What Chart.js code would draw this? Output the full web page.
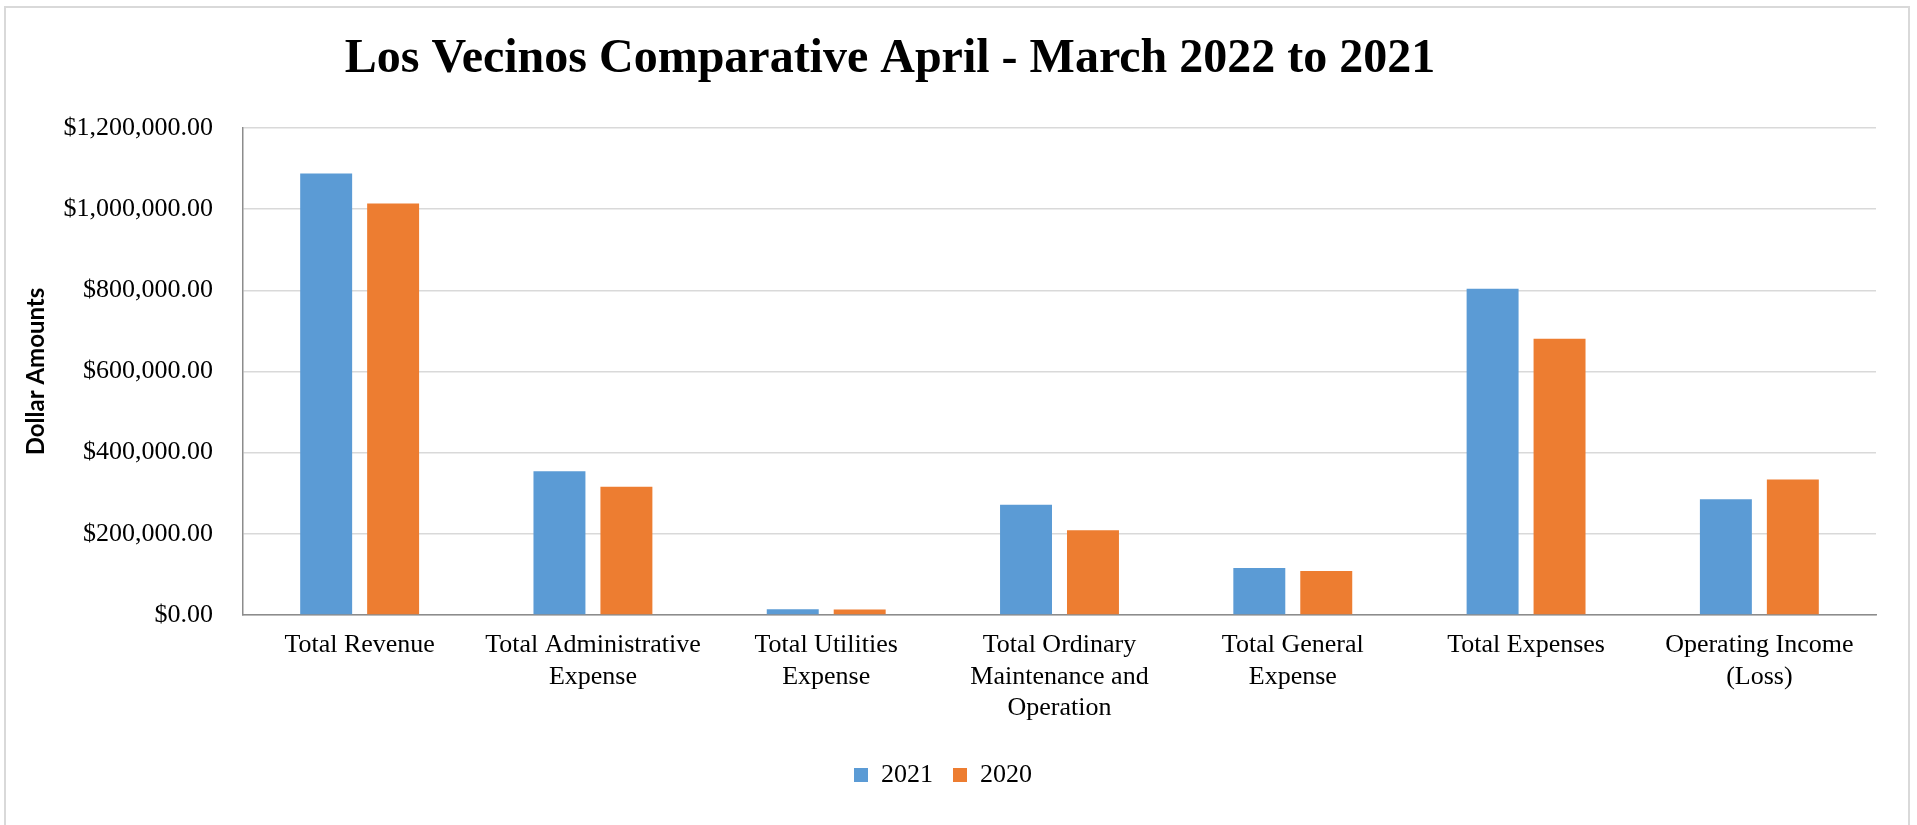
<!DOCTYPE html>
<html lang="en">
<head>
  <meta charset="UTF-8">
  <title>Los Vecinos Comparative April - March 2022 to 2021</title>
  <script src="https://cdn.jsdelivr.net/npm/chart.js"></script>
  <style>
    body {
      margin: 0;
      background: #fff;
    }
    .wrap {
      position: relative;
      width: 1917px;
      height: 825px;
      overflow: hidden;
    }
    .frame {
      position: absolute;
      left: 4px;
      top: 6px;
      width: 1902px;
      height: 840px;
      border: 2px solid #d9d9d9;
      pointer-events: none;
    }
  </style>
</head>
<body>
  <div class="wrap">
    <canvas id="comparisonChart"></canvas>
    <div class="frame"></div>
  </div>
  <script>
    // Data
    const chartTitle = 'Los Vecinos Comparative April - March 2022 to 2021';
    const yAxisTitle = 'Dollar Amounts';
    const categories = [
      ['Total Revenue'],
      ['Total Administrative', 'Expense'],
      ['Total Utilities', 'Expense'],
      ['Total Ordinary', 'Maintenance and', 'Operation'],
      ['Total General', 'Expense'],
      ['Total Expenses'],
      ['Operating Income', '(Loss)']
    ];
    const seriesNames = ['2021', '2020'];
    const values2021 = [1088000, 354000, 14000, 271500, 116000, 804000, 285500];
    const values2020 = [1014000, 316000, 13500, 209000, 108500, 680500, 334000];
    const yMin = 0;
    const yMax = 1200000;
    const yStep = 200000;

    const serif = '"Liberation Serif", "Times New Roman", serif';

    // title sits left of the canvas centre in the original, so draw it ourselves
    const titlePlugin = {
      id: 'offsetTitle',
      afterDraw(chart) {
        const ctx = chart.ctx;
        ctx.save();
        ctx.font = 'bold 48px ' + serif;
        ctx.fillStyle = '#000';
        ctx.textAlign = 'center';
        ctx.textBaseline = 'alphabetic';
        ctx.fillText(chartTitle, 890, 72);
        ctx.restore();
      }
    };

    const ctx = document.getElementById('comparisonChart').getContext('2d');

    const comparisonChart = new Chart(ctx, {
      type: 'bar',
      data: {
        labels: categories,
        datasets: [
          { label: seriesNames[0], data: values2021, backgroundColor: '#5b9bd5', borderWidth: 0 },
          { label: seriesNames[1], data: values2020, backgroundColor: '#ed7d31', borderWidth: 0 }
        ]
      },
      options: {
        responsive: true,
        maintainAspectRatio: false,
        animation: false,
        categoryPercentage: 0.574,
        barPercentage: 0.776,
        layout: {
          padding: { top: 128, left: 10, right: 41, bottom: 27 }
        },
        plugins: {
          title: { display: false },
          tooltip: { enabled: false },
          legend: {
            position: 'bottom',
            labels: {
              boxWidth: 14,
              boxHeight: 14,
              padding: 20,
              color: '#000',
              font: { family: serif, size: 26 }
            }
          }
        },
        scales: {
          x: {
            grid: { display: false, drawTicks: false },
            border: { display: true, color: '#8c8c8c', width: 1.5 },
            ticks: {
              color: '#000',
              padding: 15,
              maxRotation: 0,
              autoSkip: false,
              font: { family: serif, size: 26, lineHeight: 1.2 }
            },
            afterFit(scale) {
              scale.height = 127;
            }
          },
          y: {
            min: yMin,
            max: yMax,
            grid: { color: '#d9d9d9', lineWidth: 1.5, drawTicks: false },
            border: { display: true, color: '#8c8c8c', width: 1.5 },
            ticks: {
              stepSize: yStep,
              color: '#000',
              padding: 30,
              font: { family: serif, size: 26 },
              callback: (v) => '$' + v.toLocaleString('en-US', { minimumFractionDigits: 2, maximumFractionDigits: 2 })
            },
            title: {
              display: true,
              text: yAxisTitle,
              color: '#000',
              padding: { top: 12, bottom: 0 },
              font: { family: 'Lato, "Open Sans", sans-serif', size: 24, weight: 'bold' }
            },
            afterFit(scale) {
              scale.width = 233;
            }
          }
        }
      },
      plugins: [titlePlugin]
    });
  </script>
</body>
</html>
